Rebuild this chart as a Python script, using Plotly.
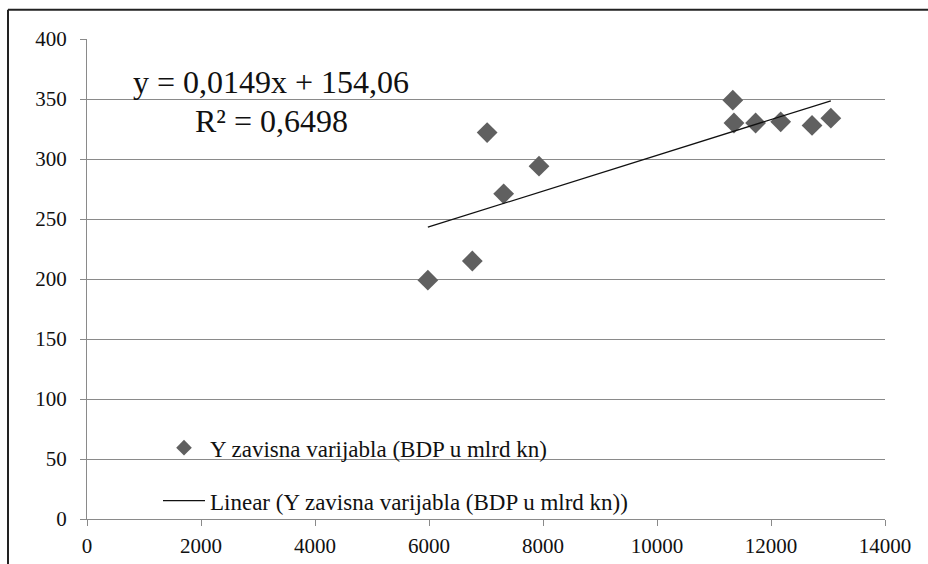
import plotly.graph_objects as go

# GDP observations (x: explanatory variable, y: BDP u mlrd kn)
x_vals = [5980, 6760, 7020, 7310, 7930, 11330, 11350, 11730, 12170, 12720, 13050]
y_vals = [199, 215, 322, 271, 294, 349, 330, 330, 331, 328, 334]

# Linear trend from the fitted equation
slope = 0.0149
intercept = 154.06
r_squared = 0.6498

x_ticks = [0, 2000, 4000, 6000, 8000, 10000, 12000, 14000]
x_tick_text = ["0", "2000", "4000", "6000", "8000", "10000", "12000", "14000"]
y_ticks = [0, 50, 100, 150, 200, 250, 300, 350, 400]
y_tick_text = ["0", "50", "100", "150", "200", "250", "300", "350", "400"]

series_name = "Y zavisna varijabla (BDP u mlrd kn)"
trend_name = "Linear (Y zavisna varijabla (BDP u mlrd kn))"

trend_x = [min(x_vals), max(x_vals)]
trend_y = [slope * v + intercept for v in trend_x]

FONT = "Liberation Serif"
INK = "#111111"

# plot area in pixels: left 87, right 885, top 39.3, bottom 519.3
L, R, T, B = 87, 885, 39.3, 519.3
def px_x(p):
    return (p - L) / (R - L)
def px_y(p):
    return (B - p) / (B - T)

fig = go.Figure()
fig.add_trace(go.Scatter(
    x=x_vals, y=y_vals, mode="markers", name=series_name,
    marker=dict(symbol="diamond", size=16, color="#606060"),
    legend="legend",
))
fig.add_trace(go.Scatter(
    x=trend_x, y=trend_y, mode="lines", name=trend_name,
    line=dict(color=INK, width=1.3),
    legend="legend2",
))

def fmt(v):
    return f"{v}".replace(".", ",")

eq_font = dict(family=FONT, size=32, color=INK)
fig.add_annotation(
    x=px_x(271), y=px_y(82), xref="paper", yref="paper",
    xanchor="center", yanchor="middle",
    text=f"y = {fmt(slope)}x + {fmt(intercept)}",
    showarrow=False, font=eq_font,
)
fig.add_annotation(
    x=px_x(271), y=px_y(121), xref="paper", yref="paper",
    xanchor="center", yanchor="middle",
    text=f"R² = {fmt(r_squared)}",
    showarrow=False, font=eq_font,
)

# outer chart frame (left and top edges visible)
frame = dict(color="#222222", width=2)
fig.add_shape(type="line", xref="paper", yref="paper",
              x0=px_x(8), x1=px_x(940), y0=px_y(10), y1=px_y(10), line=frame)
fig.add_shape(type="line", xref="paper", yref="paper",
              x0=px_x(8), x1=px_x(8), y0=px_y(10), y1=px_y(580), line=frame)

axis_common = dict(
    showline=True, linecolor="#8a8a8a", linewidth=1, zeroline=False,
    ticks="outside", ticklen=6, tickcolor="#8a8a8a",
    tickfont=dict(family=FONT, size=21, color=INK),
)

leg_common = dict(
    xanchor="left", yanchor="middle", bgcolor="rgba(0,0,0,0)",
    font=dict(family=FONT, size=23, color=INK), itemwidth=42,
)

fig.update_layout(
    width=928, height=564,
    margin=dict(l=L, r=928 - R, t=T, b=564 - B, autoexpand=False),
    plot_bgcolor="white", paper_bgcolor="white",
    font=dict(family=FONT, size=21, color=INK),
    showlegend=True,
    legend=dict(x=px_x(158), y=px_y(448), itemsizing="constant", **leg_common),
    legend2=dict(x=px_x(158), y=px_y(501), **leg_common),
    xaxis=dict(range=[0, 14000], tickvals=x_ticks, ticktext=x_tick_text,
               showgrid=False, ticklabelstandoff=2, **axis_common),
    yaxis=dict(range=[0, 400], tickvals=y_ticks, ticktext=y_tick_text,
               showgrid=True, gridcolor="#8a8a8a", gridwidth=1,
               ticklabelstandoff=9, **axis_common),
)

fig.write_html("out.html")
